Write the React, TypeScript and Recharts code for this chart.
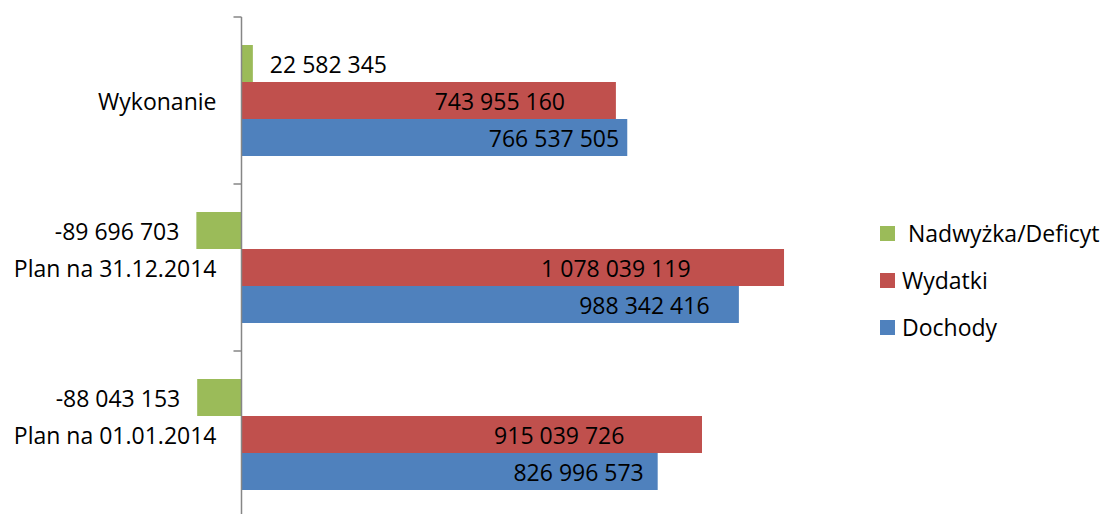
import React from 'react';
import { BarChart, Bar, XAxis, YAxis, Legend, ReferenceLine, LabelList } from 'recharts';

const categories = ['Wykonanie', 'Plan na 31.12.2014', 'Plan na 01.01.2014'];
const seriesNames = [' Nadwyżka/Deficyt', 'Wydatki', 'Dochody'];
const nadwyzka = [22582345, -89696703, -88043153];
const wydatki = [743955160, 1078039119, 915039726];
const dochody = [766537505, 988342416, 826996573];

const data = categories.map((name, i) => ({
  name,
  nadwyzka: nadwyzka[i],
  wydatki: wydatki[i],
  dochody: dochody[i],
}));

const GREEN = '#9BBB59';
const RED = '#C0504D';
const BLUE = '#4F81BD';
const AXIS = '#868686';
const FONT = '"Open Sans", sans-serif';
const FS = 23;

const W = 1106;
const H = 520;
const M = { top: 17, right: 246, bottom: 2, left: 0 };
const Y_W = 10;
const X_MIN = -460e6;
const X_MAX = 1229e6;
const plotLeft = M.left + Y_W;
const plotW = W - M.right - plotLeft;
const zeroX = plotLeft + ((0 - X_MIN) / (X_MAX - X_MIN)) * plotW;
const band = (H - M.top - M.bottom) / categories.length;

const fmt = (v: number) =>
  (v < 0 ? '-' : '') + String(Math.abs(v)).replace(/\B(?=(\d{3})+(?!\d))/g, ' ');

const CategoryTick = (props: any) => {
  const { y, payload, index } = props;
  return (
    <g>
      <text x={zeroX - 25} y={y} textAnchor="end" dominantBaseline="central" fontFamily={FONT} fontSize={FS} fill="#000">
        {payload.value}
      </text>
      <line x1={zeroX - 8} x2={zeroX} y1={y - band / 2} y2={y - band / 2} stroke={AXIS} strokeWidth={1.5} />
      {index === categories.length - 1 && (
        <line x1={zeroX - 8} x2={zeroX} y1={y + band / 2} y2={y + band / 2} stroke={AXIS} strokeWidth={1.5} />
      )}
    </g>
  );
};

// labels inside the long bars, placed at a share of the bar length
const insideLabel = (ratio: number) => (props: any) => {
  const x = Number(props.x);
  const y = Number(props.y);
  const w = Number(props.width);
  const h = Number(props.height);
  return (
    <text x={x + w * ratio} y={y + h / 2} textAnchor="middle" dominantBaseline="central" fontFamily={FONT} fontSize={FS} fill="#000">
      {fmt(Number(props.value))}
    </text>
  );
};

const outsideLabel = (props: any) => {
  const x = Number(props.x);
  const y = Number(props.y);
  const w = Number(props.width);
  const h = Number(props.height);
  const v = Number(props.value);
  const x0 = Math.min(x, x + w);
  const x1 = Math.max(x, x + w);
  const neg = v < 0;
  return (
    <text
      x={neg ? x0 - 17 : x1 + 17}
      y={y + h / 2}
      textAnchor={neg ? 'end' : 'start'}
      dominantBaseline="central"
      fontFamily={FONT}
      fontSize={FS}
      fill="#000"
    >
      {fmt(v)}
    </text>
  );
};

const LegendBox = (props: any) => {
  const items = [...(props.payload || [])].sort(
    (a: any, b: any) => seriesNames.indexOf(a.value) - seriesNames.indexOf(b.value)
  );
  return (
    <div style={{ fontFamily: FONT, fontSize: FS, color: '#000' }}>
      {items.map((it: any) => (
        <div key={it.value} style={{ display: 'flex', alignItems: 'center', height: 47 }}>
          <span style={{ width: 15, height: 15, background: it.color, display: 'inline-block' }} />
          <span style={{ marginLeft: 7, whiteSpace: 'pre', lineHeight: '47px' }}>{it.value}</span>
        </div>
      ))}
    </div>
  );
};

export default function App() {
  return (
    <div style={{ position: 'absolute', left: 0, top: 0, width: 1106, height: 514, overflow: 'hidden', background: '#fff', fontFamily: FONT }}>
      <BarChart width={W} height={H} data={data} layout="vertical" margin={M} barCategoryGap={28} barGap={0}>
        <XAxis type="number" domain={[X_MIN, X_MAX]} hide />
        <YAxis type="category" dataKey="name" width={Y_W} axisLine={false} tickLine={false} interval={0} tick={<CategoryTick />} />
        <Bar dataKey="nadwyzka" name={seriesNames[0]} fill={GREEN} isAnimationActive={false}>
          <LabelList dataKey="nadwyzka" content={outsideLabel} />
        </Bar>
        <Bar dataKey="wydatki" name={seriesNames[1]} fill={RED} isAnimationActive={false}>
          <LabelList dataKey="wydatki" content={insideLabel(0.69)} />
        </Bar>
        <Bar dataKey="dochody" name={seriesNames[2]} fill={BLUE} isAnimationActive={false}>
          <LabelList dataKey="dochody" content={insideLabel(0.81)} />
        </Bar>
        <ReferenceLine x={0} stroke={AXIS} strokeWidth={1.5} />
        <Legend
          layout="vertical"
          align="center"
          verticalAlign="middle"
          content={<LegendBox />}
          wrapperStyle={{ left: 880, top: 210, width: 226 }}
        />
      </BarChart>
    </div>
  );
}
